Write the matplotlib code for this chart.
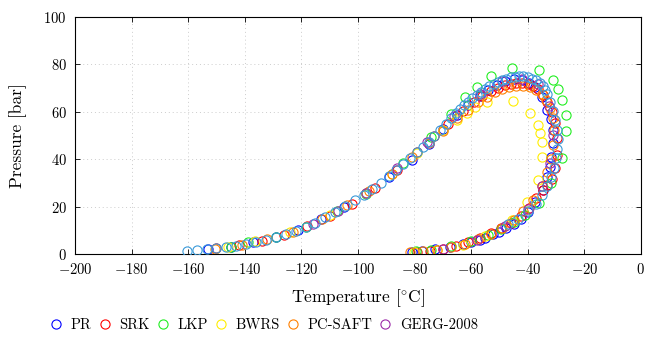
import numpy as np
import matplotlib
matplotlib.use("Agg")
import matplotlib.pyplot as plt

# --- donnees (T en degC, P en bar) ---
T_ref = [-160.5, -157, -153.5, -150, -146.5, -143, -139.5, -136, -132.5, -129, -125.5, -122,
         -118.5, -115, -111.5, -108, -104.5, -101, -98, -95, -92, -89, -86.5, -84, -81.5, -79,
         -77, -75, -73, -71, -69, -67, -65.5, -64, -62.5, -61, -59.5, -58, -56.5, -55, -53.5,
         -52, -50.5, -49, -47.5, -46, -44.5, -43, -41.5, -40, -38.5, -37, -35.8, -34.7, -33.8,
         -33, -32, -31, -30.2, -29.6, -29.4, -29.6, -30.1, -30.8, -31.8, -33.2, -35, -37.2,
         -40, -43.5, -47]
P_ref = [1.2, 1.6, 2.0, 2.4, 2.9, 3.6, 4.3, 5.1, 6.1, 7.2, 8.5, 9.9, 11.5, 13.3, 15.5, 17.7,
         20.1, 22.7, 25.0, 27.5, 30.1, 32.8, 35.5, 37.8, 40.3, 43.0, 45.2, 47.4, 49.9, 52.4,
         55.0, 57.5, 59.4, 61.0, 62.7, 64.2, 65.7, 67.1, 68.4, 69.6, 70.7, 71.7, 72.6, 73.4,
         74.0, 74.5, 74.8, 75.0, 74.9, 74.6, 74.0, 73.2, 72.2, 70.8, 69.2, 67.4, 64.0, 60.5,
         56.5, 52.5, 48.5, 44.5, 40.5, 36.5, 32.5, 28.5, 24.9, 21.3, 18.0, 15.0, 12.5]

T_pr = [-153, -145, -137, -129, -121, -113, -105, -97, -89, -81, -75, -70, -65, -61, -57, -54,
        -51, -48, -45, -42, -39.5, -37.5, -35.1, -33.3, -31.8, -31, -31, -31.6, -32.2, -33,
        -34.6, -37.5, -40, -42.2, -45, -47.5, -50, -52.2, -55, -57, -60, -63, -67.5, -72.8,
        -77.5, -81]
P_pr = [2.0, 3.1, 4.9, 7.2, 10.3, 14.6, 19.8, 25.8, 32.6, 39.7, 46.5, 52.8, 58.5, 62.8, 66.7,
        69.2, 71.3, 72.8, 73.6, 73.4, 72.0, 70.4, 66.4, 60.8, 57.0, 52.3, 46.7, 41.0, 36.7,
        32.5, 27.0, 22.1, 17.8, 15.0, 12.8, 11.1, 9.5, 8.3, 6.8, 5.9, 4.9, 4.1, 2.8, 2.0, 1.3,
        1.0]

T_srk = [-150, -142, -134, -126, -118, -110, -102, -94, -86, -79, -73, -68, -63, -59, -56, -53,
         -50.5, -48, -46, -44, -42, -40, -38, -36.3, -34.5, -33, -31.5, -30.3, -29.8, -29.8,
         -30.3, -31.5, -33, -34.6, -37, -39.5, -42.5, -46, -49.5, -53, -57, -61, -65.5, -70,
         -74.5, -79]
P_srk = [2.4, 3.8, 5.7, 8.2, 11.7, 16.1, 21.3, 27.8, 35.5, 42.9, 49.6, 55.0, 60.2, 64.0, 66.5,
         68.6, 70.0, 71.2, 71.9, 72.3, 72.3, 71.8, 70.8, 69.4, 67.0, 64.0, 60.0, 55.1, 49.0,
         41.8, 36.5, 31.8, 29.0, 27.0, 23.5, 19.5, 16.2, 13.3, 10.9, 8.7, 6.6, 4.9, 3.3, 2.2,
         1.5, 1.0]

T_lkp = [-145, -139, -129, -118.5, -107.5, -97, -84, -74, -67, -62.2, -58, -53, -45.5, -36,
         -31.2, -29.1, -27.7, -26.5, -26.3, -27.7, -31.6, -36, -41, -45, -49.5, -54, -60, -67,
         -74, -79.5]
P_lkp = [3.0, 4.9, 7.2, 11.4, 18.0, 25.5, 38.6, 49.5, 59.0, 66.4, 70.6, 74.9, 78.3, 77.6, 73.4,
         69.6, 65.0, 58.6, 51.9, 40.6, 29.8, 21.5, 16.6, 13.6, 10.6, 8.0, 5.6, 3.3, 1.8, 1.2]

T_bwrs = [-146, -136.4, -124, -110, -97, -88, -79, -70, -65, -61.5, -58.7, -54.5, -45.3, -39.2,
          -36.5, -35.7, -35.1, -34.9, -36.3, -40.2, -45.7, -55, -63, -72, -80]
P_bwrs = [3.0, 5.6, 9.4, 16.5, 25.8, 33.6, 42.5, 52.3, 56.5, 59.5, 62.0, 64.0, 64.6, 59.4, 54.4,
          50.9, 47.1, 41.0, 31.2, 22.1, 14.3, 7.6, 4.0, 1.9, 1.0]

T_saft = [-150.5, -141, -132, -123, -112.8, -104, -96, -88, -81, -75, -70, -65, -61, -57.5,
          -54.5, -51.5, -49, -46.5, -44, -41.5, -39, -37, -35, -33.5, -32.2, -31.2, -30.8, -31,
          -31.8, -33, -35, -38, -41.5, -45, -49, -53, -57.5, -62, -67, -72, -77, -81.5]
P_saft = [2.3, 4.0, 6.4, 9.5, 15.0, 20.5, 26.5, 33.7, 40.8, 46.9, 52.0, 57.2, 60.8, 63.9, 66.2,
          68.2, 69.5, 70.5, 71.0, 71.0, 70.4, 69.3, 67.3, 64.8, 61.5, 57.5, 52.5, 46.0, 40.0,
          34.5, 28.5, 23.0, 18.2, 14.5, 11.2, 8.6, 6.3, 4.4, 2.8, 1.9, 1.3, 0.9]

T_gerg = [-116, -107, -97, -86.3, -75.7, -66, -57, -49, -42, -36.5, -32.5, -31.2, -32, -35, -40,
          -48, -58, -70]
P_gerg = [12.8, 18.3, 25.8, 36.2, 47.4, 58.3, 67.6, 72.8, 73.9, 71.5, 62.5, 50.0, 38.5, 28.5,
          19.0, 11.8, 5.8, 2.3]

series = [
    ("PR", T_pr, P_pr, "#0000ff"),
    ("SRK", T_srk, P_srk, "#ff0000"),
    ("LKP", T_lkp, P_lkp, "#22ee22"),
    ("BWRS", T_bwrs, P_bwrs, "#ffee00"),
    ("PC-SAFT", T_saft, P_saft, "#ff8000"),
    ("GERG-2008", T_gerg, P_gerg, "#9c2aa8"),
]

plt.rcParams['font.family'] = 'serif'
plt.rcParams['font.serif'] = ['cmr10', 'DejaVu Serif']
plt.rcParams['mathtext.fontset'] = 'cm'
plt.rcParams['axes.formatter.use_mathtext'] = True

fig = plt.figure(figsize=(6.46, 3.37), dpi=100)
ax = fig.add_axes([0.116, 0.246, 0.876, 0.704])

mk = dict(marker='o', linestyle='none', markersize=6.6, markerfacecolor='none',
          markeredgewidth=0.8)
for name, t, p, col in series:
    ax.plot(t, p, markeredgecolor=col, label=name, **mk)
ax.plot(T_ref, P_ref, markeredgecolor='#3a9ad9', label='_nolegend_', zorder=3, **mk)

ax.set_xlim(-200, 0)
ax.set_ylim(0, 100)
ax.set_xticks(np.arange(-200, 1, 20))
ax.set_yticks(np.arange(0, 101, 20))
ax.grid(True, linestyle=(0, (1, 3)), color='#cccccc', linewidth=0.7)
ax.set_axisbelow(True)
ax.tick_params(direction='in', top=True, right=True, length=3.5, width=0.6, labelsize=10.5)
ax.tick_params(axis='x', pad=6)
ax.tick_params(axis='y', pad=6)
for s in ax.spines.values():
    s.set_linewidth(0.8)

ax.set_xlabel(r'Temperature [$^{\circ}$C]', fontsize=12.5, labelpad=7)
ax.set_ylabel('Pressure [bar]', fontsize=12.5, labelpad=12)

fig.legend(loc='center', bbox_to_anchor=(0.41, 0.036), ncol=6, frameon=False,
           fontsize=10.5, handlelength=0.6, handletextpad=0.7, columnspacing=0.6,
           borderpad=0.2)

fig.savefig('out.png', dpi=100)
